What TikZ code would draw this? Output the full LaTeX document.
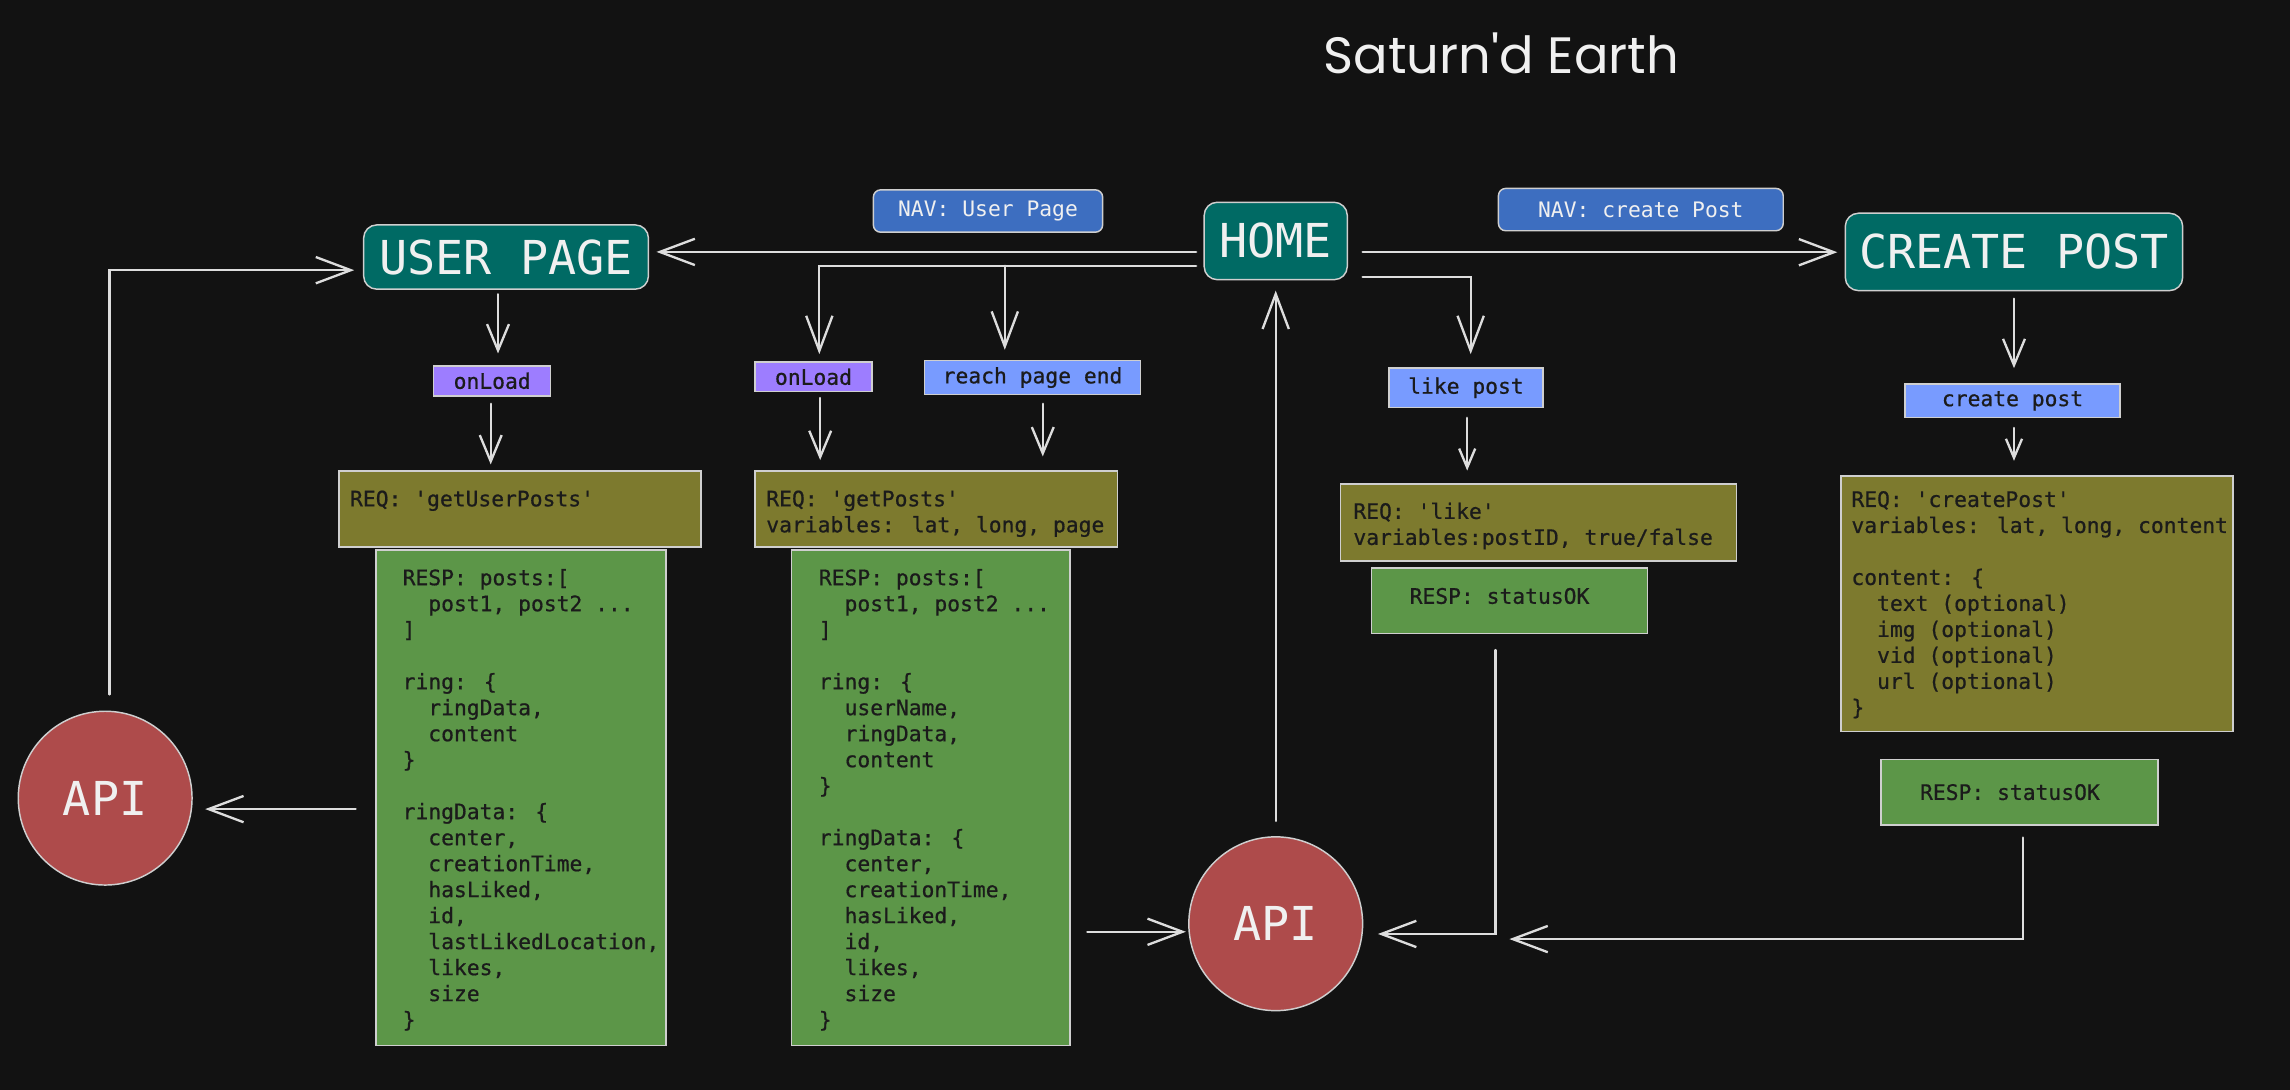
\documentclass[tikz,border=0pt]{standalone}
\usepackage{fontspec}
\usetikzlibrary{arrows.meta,calc}
\newfontfamily\mono{DejaVu Sans Mono}
\newfontfamily\monom{DejaVu Sans Mono}[FakeBold=0.7]
\newfontfamily\titlef{Poppins}
\definecolor{bgc}{HTML}{121212}
\definecolor{linec}{HTML}{DDDDDD}
\definecolor{bordc}{HTML}{CFCFCF}
\definecolor{tealc}{HTML}{006A64}
\definecolor{navc}{HTML}{3D6EC0}
\definecolor{purplec}{HTML}{9D7DFF}
\definecolor{lbluec}{HTML}{789BFF}
\definecolor{olivec}{HTML}{7D7A2E}
\definecolor{greenc}{HTML}{5C9648}
\definecolor{redc}{HTML}{AE4B4B}
\definecolor{darkc}{HTML}{1B1B1B}
\definecolor{whitec}{HTML}{F0F0F0}
\newcommand\hdrfont{\mono\fontsize{32}{36}\selectfont}
\newcommand\smallf{\mono\fontsize{14.6}{17.8}\selectfont}
\newcommand\smallb{\monom\fontsize{14.6}{17.8}\selectfont}
\newcommand\q{\textquotesingle}
\newcommand\ind{\hphantom{xx}}
\newcommand\st{\rule{0pt}{12pt}}
\begin{document}
\begin{tikzpicture}[x=1pt,y=-1pt,
  conn/.style={draw=linec, line width=1.6pt, line cap=round},
  arrL/.style={conn, -{Straight Barb[length=24pt,width=18pt]}},
  arrM/.style={conn, -{Straight Barb[length=18pt,width=15pt]}},
  arrS/.style={conn, -{Straight Barb[length=13pt,width=11pt]}},
  box/.style={draw=bordc, line width=1pt, inner sep=0pt, rectangle},
  hdr/.style={box, fill=tealc, rounded corners=9pt, text=whitec, font=\hdrfont},
  lbl/.style={box, text=darkc, font=\smallb},
  nav/.style={box, fill=navc, rounded corners=5pt, text=whitec, font=\smallf},
  req/.style={box, fill=olivec},
  resp/.style={box, fill=greenc},
  api/.style={circle, draw=bordc, line width=1pt, fill=redc, text=whitec, font=\hdrfont, inner sep=0pt, minimum size=119pt},
  txt/.style={anchor=north west, inner sep=0pt, align=left, text=darkc, font=\smallb},
]
\fill[bgc] (0,0) rectangle (1568,746.3);
\useasboundingbox (0,0) rectangle (1568,746.3);

% title
\node[font=\titlef\fontsize{35}{40}\selectfont, text=whitec] (title) at (1028,36.5) {Saturn\q d Earth};

% headers
\node[hdr, minimum width=195pt, minimum height=44pt] (userpage) at (346.5,176) {USER PAGE};
\node[hdr, minimum width=98pt, minimum height=53pt] (home) at (873.5,165) {HOME};
\node[hdr, minimum width=231pt, minimum height=53pt] (createpost) at (1379,172.5) {CREATE POST};
\node[nav, minimum width=157pt, minimum height=29pt] (navuser) at (676.5,144.5) {NAV: User Page};
\node[nav, minimum width=195pt, minimum height=29pt] (navcreate) at (1123.5,143.5) {NAV: create Post};

% event labels
\node[lbl, fill=purplec, minimum width=80pt, minimum height=20.5pt] (onload1) at (337,260.75) {onLoad};
\node[lbl, fill=purplec, minimum width=80pt, minimum height=20pt] (onload2) at (557,258) {onLoad};
\node[lbl, fill=lbluec, minimum width=148pt, minimum height=23pt] (reachend) at (707,258.5) {reach page end};
\node[lbl, fill=lbluec, minimum width=105.5pt, minimum height=27pt] (likepost) at (1003.75,265.5) {like post};
\node[lbl, fill=lbluec, minimum width=147pt, minimum height=23pt] (createlbl) at (1378,274.5) {create post};

% request / response boxes
\node[req, minimum width=248pt, minimum height=52pt] (req1) at (356,348.5) {};
\node[req, minimum width=248pt, minimum height=52pt] (req2) at (641,348.5) {};
\node[req, minimum width=271pt, minimum height=52.6pt] (reqlike) at (1053.5,357.7) {};
\node[req, minimum width=268.5pt, minimum height=175pt] (reqcreate) at (1394.75,413.5) {};
\node[resp, minimum width=198.5pt, minimum height=339.4pt] (resp1) at (356.75,546.3) {};
\node[resp, minimum width=190.5pt, minimum height=339.4pt] (resp2) at (637.25,546.3) {};
\node[resp, minimum width=189pt, minimum height=44.6pt] (resplike) at (1033.5,411.3) {};
\node[resp, minimum width=189.6pt, minimum height=45pt] (respcreate) at (1382.8,542.5) {};

\node[txt] (t1) at ([xshift=8pt,yshift=-12.5pt]req1.north west) {\st REQ: \q getUserPosts\q};
\node[txt] (t2) at ([xshift=8pt,yshift=-12.5pt]req2.north west) {\st REQ: \q getPosts\q\\variables: lat, long, page};
\node[txt] (t3) at ([xshift=9pt,yshift=-12.2pt]reqlike.north west) {\st REQ: \q like\q\\variables:postID, true/false};
\node[txt] (t4) at ([xshift=7.5pt,yshift=-9.4pt]reqcreate.north west) {\st REQ: \q createPost\q\\variables: lat, long, content\\\mbox{}\\content: \{\\\ind text (optional)\\\ind img (optional)\\\ind vid (optional)\\\ind url (optional)\\\}};
\node[txt] (t5) at ([xshift=18.5pt,yshift=-12.4pt]resp1.north west) {\st RESP: posts:[\\\ind post1, post2 ...\\]\\\mbox{}\\ring: \{\\\ind ringData,\\\ind content\\\}\\\mbox{}\\ringData: \{\\\ind center,\\\ind creationTime,\\\ind hasLiked,\\\ind id,\\\ind lastLikedLocation,\\\ind likes,\\\ind size\\\}};
\node[txt] (t6) at ([xshift=19pt,yshift=-12.4pt]resp2.north west) {\st RESP: posts:[\\\ind post1, post2 ...\\]\\\mbox{}\\ring: \{\\\ind userName,\\\ind ringData,\\\ind content\\\}\\\mbox{}\\ringData: \{\\\ind center,\\\ind creationTime,\\\ind hasLiked,\\\ind id,\\\ind likes,\\\ind size\\\}};
\node[txt] (t7) at ([xshift=26.5pt,yshift=-12.7pt]resplike.north west) {\st RESP: statusOK};
\node[txt] (t8) at ([xshift=27pt,yshift=-16pt]respcreate.north west) {\st RESP: statusOK};

% API
\node[api] (api1) at (72,546.5) {API};
\node[api] (api2) at (873.5,632.5) {API};

% connectors
\draw[arrL, shorten <=5pt, shorten >=5pt] ([yshift=-7.5pt]home.west) -- ([yshift=-7.5pt]home.west -| userpage.east);
\path ([xshift=-19pt]reachend.north) coordinate (brx);
\path ([yshift=-17pt]home.west) coordinate (bry);
\coordinate (br) at (brx |- bry);
\draw[arrL, shorten <=5pt, shorten >=5pt] (bry) -| ([xshift=4pt]onload2.north);
\draw[arrL, shorten >=7pt] (br) -- (brx);
\draw[arrM, shorten <=3pt, shorten >=8pt] ([xshift=-5.5pt]userpage.south) -- ([xshift=-5.5pt]userpage.south |- onload1.north);
\draw[arrM, shorten <=5pt, shorten >=4pt] ([xshift=-1pt]onload1.south) -- ([xshift=-1pt]onload1.south |- req1.north);
\draw[arrM, shorten <=4pt, shorten >=7pt] ([xshift=4.6pt]onload2.south) -- ([xshift=4.6pt]onload2.south |- req2.north);
\draw[arrM, shorten <=6pt, shorten >=9.5pt] ([xshift=7pt]reachend.south) -- ([xshift=7pt]reachend.south |- req2.north);
\draw[arrL, shorten <=11pt, shorten >=6pt] ([xshift=3pt]api1.north) |- ([yshift=-9pt]userpage.west);
\draw[arrL, shorten <=13.5pt, shorten >=8.5pt] ([yshift=-7.7pt]resp1.west) -- ([yshift=-7.7pt]resp1.west -| api1.east);
\draw[arrL, shorten <=10.4pt, shorten >=7pt] (api2.north) -- (home.south);
\draw[arrL, shorten <=11.5pt, shorten >=1.5pt] ([yshift=-5.5pt]api2.west -| resp2.east) -- ([yshift=-5.5pt]api2.west);
\draw[arrL, shorten <=11pt, shorten >=10pt] ([xshift=-9.5pt]resplike.south) |- ([yshift=-7pt]api2.east);
\draw[arrL, shorten <=8pt, shorten >=100pt] ([xshift=2.2pt]respcreate.south) |- ([yshift=-10.5pt]api2.east);
\draw[arrL, shorten <=10pt, shorten >=5pt] ([yshift=-7.7pt]home.east) -- ([yshift=-7.7pt]home.east -| createpost.west);
\draw[arrL, shorten <=10pt, shorten >=9pt] ([yshift=-24.5pt]home.east) -| ([xshift=3.25pt]likepost.north);
\draw[arrS, shorten <=6.6pt, shorten >=8.7pt] ([xshift=0.85pt]likepost.south) -- ([xshift=0.85pt]likepost.south |- reqlike.north);
\draw[arrM, shorten <=5pt, shorten >=10.4pt] (createpost.south) -- (createpost.south |- createlbl.north);
\draw[arrS, shorten <=6.5pt, shorten >=10pt] ([xshift=1pt]createlbl.south) -- ([xshift=1pt]createlbl.south |- reqcreate.north);
\end{tikzpicture}
\end{document}
